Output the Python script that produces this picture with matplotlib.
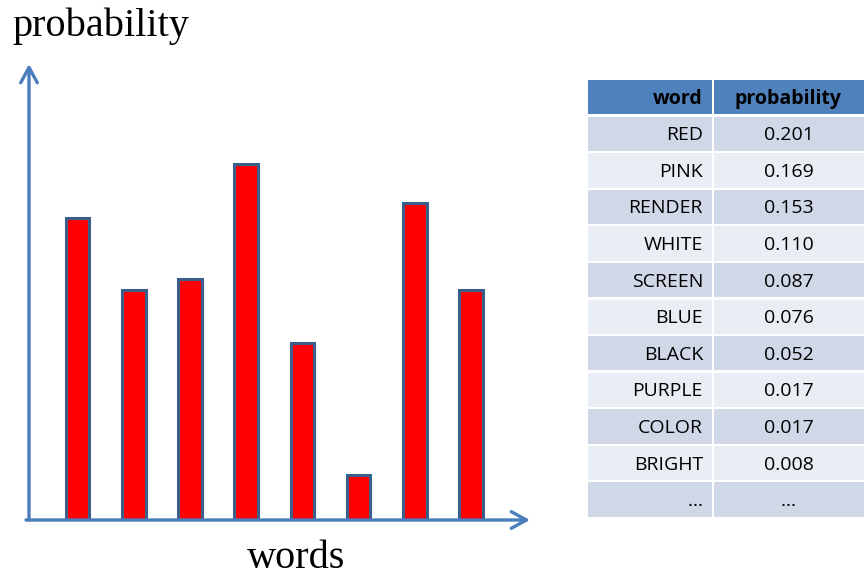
import numpy as np
import matplotlib
matplotlib.use("Agg")
import matplotlib.pyplot as plt
from matplotlib.patches import Rectangle

# bar heights (arbitrary units, illustrative distribution)
bar_heights = [6.04, 4.60, 4.82, 7.12, 3.54, 0.90, 6.34, 4.60]
y_top = 9.12

# table contents
words = ["RED", "PINK", "RENDER", "WHITE", "SCREEN", "BLUE", "BLACK",
         "PURPLE", "COLOR", "BRIGHT", "\u2026"]
probs = ["0.201", "0.169", "0.153", "0.110", "0.087", "0.076", "0.052",
         "0.017", "0.017", "0.008", "\u2026"]
header = ["word", "probability"]

W, H = 864, 579
fig = plt.figure(figsize=(W / 100, H / 100), dpi=100)
fig.patch.set_facecolor("white")

axis_blue = "#4A7EBB"
edge_blue = "#3A5F8B"

# ---- bar chart ----
ax = fig.add_axes([29 / W, (H - 520) / H, 501 / W, 456 / H])
ax.axis("off")
x = np.arange(len(bar_heights))
ax.bar(x, bar_heights, width=0.42, color="#FF0000", edgecolor=edge_blue,
       linewidth=2.2, zorder=2)
ax.set_xlim(-0.863, 8.05)
ax.set_ylim(0, y_top)

arrow = dict(arrowstyle="->,head_length=0.55,head_width=0.3",
             color=axis_blue, lw=2.4, mutation_scale=20,
             shrinkA=0, shrinkB=0)
ax.annotate("", xy=(0, 1), xytext=(0, 0), xycoords="axes fraction",
            arrowprops=arrow, annotation_clip=False)
ax.annotate("", xy=(1, 0), xytext=(-0.006, 0), xycoords="axes fraction",
            arrowprops=arrow, annotation_clip=False)

fig.text(12 / W, (H - 36) / H, "probability", family="Liberation Serif",
         fontsize=29, ha="left", va="baseline")
fig.text(296 / W, (H - 568) / H, "words", family="Liberation Serif",
         fontsize=29, ha="center", va="baseline")

# ---- probability table ----
tx0, ty0, tw, th = 588, 80, 276, 439
tax = fig.add_axes([tx0 / W, (H - ty0 - th) / H, tw / W, th / H])
tax.set_xlim(0, tw)
tax.set_ylim(th, 0)
tax.axis("off")

n_rows = len(words) + 1
row_h = th / n_rows
col_edges = [0, 125, tw]
gap = 2.2

for r in range(n_rows):
    if r == 0:
        fc = "#4F81BD"
    elif r % 2 == 1:
        fc = "#D0D8E8"
    else:
        fc = "#E9EDF4"
    top = r * row_h
    for c in range(2):
        left = col_edges[c] + (gap / 2 if c == 1 else 0)
        right = col_edges[c + 1] - (gap / 2 if c == 0 else 0)
        tax.add_patch(Rectangle((left, top), right - left, row_h - gap,
                                facecolor=fc, edgecolor="none"))
    cy = top + (row_h - gap) / 2 + 1.5
    if r == 0:
        c0, c1 = header
        weight = "bold"
    else:
        c0, c1 = words[r - 1], probs[r - 1]
        weight = "normal"
    tax.text(115, cy, c0, ha="right", va="center", fontsize=14,
             family="Open Sans", fontweight=weight, color="black")
    tax.text(200.5, cy, c1, ha="center", va="center", fontsize=14,
             family="Open Sans", fontweight=weight, color="black")

fig.savefig("out.png", dpi=100)
